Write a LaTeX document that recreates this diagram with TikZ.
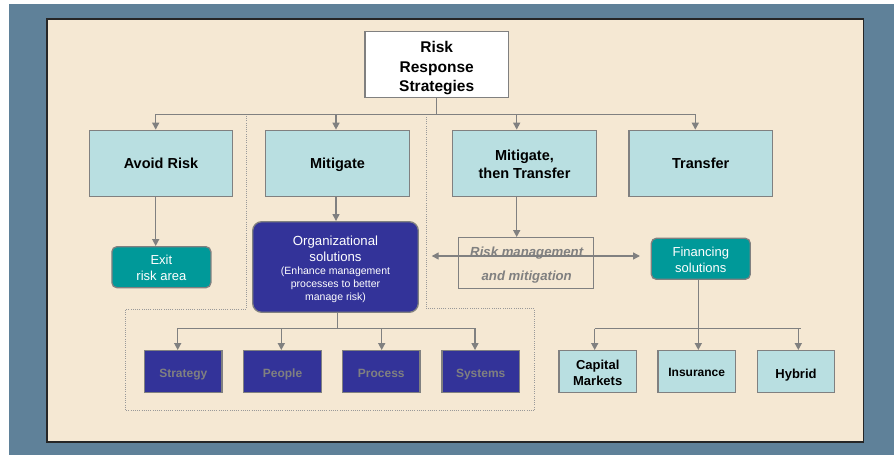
\documentclass[tikz,border=0pt]{standalone}
\usepackage{fontspec}
\setmainfont{Liberation Sans}
\usetikzlibrary{arrows.meta}
\definecolor{frame}{HTML}{5F8199}
\definecolor{panel}{HTML}{F5E8D3}
\definecolor{pale}{HTML}{B9DFE1}
\definecolor{tealbox}{HTML}{009999}
\definecolor{navy}{HTML}{333399}
\definecolor{wire}{HTML}{808080}
\tikzset{
  box/.style={draw=wire, line width=1.3pt, align=center, inner sep=0pt, anchor=center},
  level/.style={box, fill=pale, minimum width=143.4pt, minimum height=66.4pt,
    font=\fontsize{14.5pt}{18pt}\selectfont\bfseries},
  leaf/.style={box, fill=pale, minimum width=77.3pt, minimum height=41.6pt,
    font=\fontsize{13pt}{16pt}\selectfont\bfseries},
  navyleaf/.style={box, fill=navy, minimum width=77.5pt, minimum height=41.6pt,
    text=wire, text height=13pt, text depth=1.6pt,
    font=\fontsize{12pt}{14pt}\selectfont\bfseries},
  tealround/.style={box, fill=tealbox, rounded corners=5pt, minimum width=99pt,
    minimum height=41pt},
  tealtext/.style={align=center, inner sep=0pt, text=white,
    font=\fontsize{13pt}{15.5pt}\selectfont},
  txt/.style={inner sep=0pt, anchor=base},
  wireline/.style={draw=wire, line width=1.4pt},
  arr/.style={wireline, -{Triangle[width=7pt,length=7pt]}},
  darr/.style={wireline, {Triangle[width=7pt,length=7pt]}-{Triangle[width=7pt,length=7pt]}},
  fence/.style={draw=wire!80, line width=0.8pt, dash pattern=on 0.8pt off 1.4pt},
}
\begin{document}
\begin{tikzpicture}[x=1pt,y=-1pt]
% page, outer frame and panel
\useasboundingbox (0,0) rectangle (894,455);
\fill[white] (0,0) rectangle (894,455);
\fill[frame] (9,4) rectangle (894,455);
\draw[fill=panel, draw=black!85, line width=1.6pt] (46.7,19) rectangle (863.3,441.7);

% dotted grouping outline
\draw[fence] (246.3,116) -- (246.3,309) -- (125.7,309) -- (125.7,410.7)
  -- (534.3,410.7) -- (534.3,308.5) -- (426,308.5) -- (426,116);

% root
\node[box, fill=white, minimum width=143.3pt, minimum height=66.4pt] (root) at (436.7,64.5) {};
\node[align=center, inner sep=0pt, font=\fontsize{15.5pt}{19.5pt}\selectfont\bfseries]
  (roottext) at ([yshift=-4pt]root.center) {Risk\\Response\\Strategies};

% strategy level
\node[level, text height=13pt, text depth=2.5pt] (avoid) at (161,163.5) {Avoid Risk};
\node[level, text height=13pt, text depth=2.5pt] (mitig) at (337.5,163.5) {Mitigate};
\node[level] (mtt) at (524.5,163.5) {};
\node[align=center, inner sep=0pt, font=\fontsize{14.5pt}{18pt}\selectfont\bfseries]
  (mtttext) at ([yshift=-1pt]mtt.center) {Mitigate,\\then Transfer};
\node[level, text height=13pt, text depth=2.5pt] (transfer) at (700.7,163.5) {Transfer};

% branch bar below the root
\coordinate (b1) at (155.7,114.3);
\coordinate (b2) at (336,114.3);
\coordinate (b3) at (516.7,114.3);
\coordinate (b4) at (695.3,114.3);
\draw[wireline] (root.south) -- (root.south |- b1);
\draw[wireline] (b1) -- (b4);
\draw[arr] (b1) -- (b1 |- avoid.north);
\draw[arr] (b2) -- (b2 |- mitig.north);
\draw[arr] (b3) -- (b3 |- mtt.north);
\draw[arr] (b4) -- (b4 |- transfer.north);

% avoid branch
\node[tealround] (exit) at (161.4,267.2) {};
\node[tealtext] (exittext) at ([yshift=-0.8pt]exit.center) {Exit\\risk area};
\coordinate (a1) at (155.7,196.7);
\draw[arr] (a1) -- (a1 |- exit.north);

% mitigate branch
\node[box, fill=navy, rounded corners=9pt, minimum width=165.6pt, minimum height=90.6pt] (org) at (335.5,267) {};
\begin{scope}[every node/.style={txt, text=white}]
  \node[font=\fontsize{13.2pt}{16pt}\selectfont] (org1) at (335.5,245.3) {Organizational};
  \node[font=\fontsize{13.2pt}{16pt}\selectfont] (org2) at (335.5,261.3) {solutions};
  \node[font=\fontsize{10.5pt}{13pt}\selectfont] (org3) at (335.5,274.6) {(Enhance management};
  \node[font=\fontsize{10.5pt}{13pt}\selectfont] (org4) at (335.5,287.3) {processes to better};
  \node[font=\fontsize{10.5pt}{13pt}\selectfont] (org5) at (335.5,300.5) {manage risk)};
\end{scope}
\draw[arr] (b2 |- mitig.south) -- (b2 |- org.north);

\node[navyleaf] (strategy) at (183.3,371.5) {Strategy};
\node[navyleaf] (people) at (282.5,371.5) {People};
\node[navyleaf] (process) at (381.3,371.5) {Process};
\node[navyleaf] (systems) at (480.7,371.5) {Systems};
\coordinate (o1) at (177.7,328.3);
\coordinate (o2) at (281.3,328.3);
\coordinate (o3) at (381.7,328.3);
\coordinate (o4) at (475,328.3);
\coordinate (ostem) at (337.7,328.3);
\draw[wireline] (org.south -| ostem) -- (ostem);
\draw[wireline] (o1) -- (o4);
\draw[arr] (o1) -- (o1 |- strategy.north);
\draw[arr] (o2) -- (o2 |- people.north);
\draw[arr] (o3) -- (o3 |- process.north);
\draw[arr] (o4) -- (o4 |- systems.north);

% mitigate-then-transfer branch
\node[box, minimum width=134.6pt, minimum height=51pt] (rm) at (526,263.2) {};
\node[txt, text=wire, font=\fontsize{13.2pt}{16pt}\selectfont\bfseries\itshape] (rmtop)
  at (526.7,256.4) {Risk management};
\node[txt, text=wire, font=\fontsize{13.2pt}{16pt}\selectfont\bfseries\itshape] (rmbot)
  at (526.7,280) {and mitigation};
\draw[arr] (b3 |- mtt.south) -- (b3 |- rm.north);

\node[tealround] (fin) at (700.8,258.8) {};
\node[tealtext] (fintext) at ([yshift=-1.2pt]fin.center) {Financing\\solutions};
\coordinate (dl) at (431.7,256);
\coordinate (dr) at (640,256);
\draw[darr] (dl) -- (dr);

% transfer options
\node[leaf] (capital) at (597.7,371.5) {};
\node[align=center, inner sep=0pt, font=\fontsize{13pt}{16pt}\selectfont\bfseries]
  (capitaltext) at ([yshift=-1.2pt]capital.center) {Capital\\Markets};
\node[leaf, text height=12.5pt, text depth=2pt, font=\fontsize{12pt}{14pt}\selectfont\bfseries]
  (insurance) at (696.7,371.5) {Insurance};
\node[leaf, text height=15pt, text depth=1.6pt] (hybrid) at (796,371.5) {Hybrid};
\coordinate (f1) at (594.7,328.7);
\coordinate (f2) at (698.3,328.7);
\coordinate (f3) at (798.3,328.7);
\draw[wireline] (fin.south -| f2) -- (f2);
\draw[wireline] (f1) -- (800.7,328.7);
\draw[arr] (f1) -- (f1 |- capital.north);
\draw[arr] (f2) -- (f2 |- insurance.north);
\draw[arr] (f3) -- (f3 |- hybrid.north);
\end{tikzpicture}
\end{document}
